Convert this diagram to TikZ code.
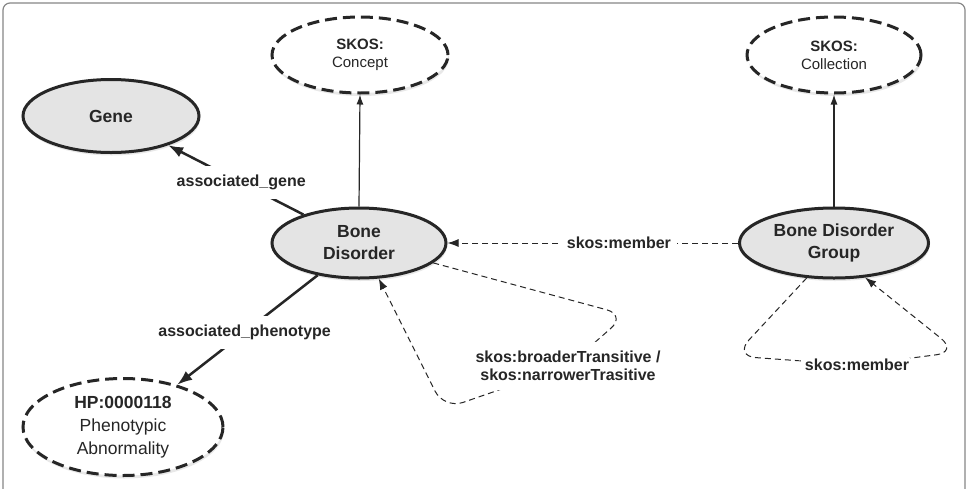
\documentclass[tikz,border=0pt]{standalone}
\usepackage{fontspec}
\setmainfont{Liberation Sans}
\usetikzlibrary{arrows.meta, shapes.geometric, shadows}
\usepackage{xcolor}
\definecolor{ink}{RGB}{38,38,38}
\definecolor{nodefill}{RGB}{228,228,228}
\definecolor{framegray}{RGB}{135,135,135}
\tikzset{
  BN/.style={ellipse,draw=ink,fill=nodefill,line width=3pt,inner sep=0pt,align=center,font=\fontsize{17.5}{22}\selectfont\bfseries\color{ink},drop shadow={opacity=0.18,shadow xshift=1pt,shadow yshift=-3pt}},
  DN/.style={ellipse,draw=ink,fill=white,line width=3pt,dash pattern=on 12pt off 6pt,inner sep=0pt,align=center,font=\fontsize{15}{18}\selectfont\color{ink},drop shadow={opacity=0.18,shadow xshift=1pt,shadow yshift=-3pt}},
  FL/.style={-{Latex[length=10pt,width=7pt]},line width=1.2pt,ink},
  TL/.style={-{Latex[length=15pt,width=11pt]},line width=2.5pt,ink},
  DL/.style={-{Latex[length=11pt,width=8pt]},line width=1pt,ink,dash pattern=on 6pt off 4pt},
  lb/.style={fill=white,inner xsep=6pt,inner ysep=9pt,align=center,font=\fontsize{16}{18.5}\selectfont\bfseries\color{ink}},
}
\begin{document}
\begin{tikzpicture}[x=1pt,y=-1pt]
\useasboundingbox (0,0) rectangle (968,488);
\fill[white] (0,0) rectangle (968,488);
\draw[framegray,line width=1.2pt,rounded corners=7pt] (3,500) -- (3,3) -- (965,3) -- (965,500);

% SKOS classes (top)
\node[DN,minimum width=176pt,minimum height=76pt](concept) at (360,55){\textbf{SKOS:}\\Concept};
\node[DN,minimum width=174pt,minimum height=76pt](collection) at (834,55){\textbf{SKOS:}\\Collection};

% main nodes
\node[BN,minimum width=176pt,minimum height=73pt](gene) at (111,116){Gene};
\node[BN,minimum width=174pt,minimum height=70pt](bd) at (359,243){Bone\\Disorder};
\node[BN,minimum width=189pt,minimum height=70pt](bdg) at (834,243){Bone Disorder\\Group};
\node[DN,minimum width=200pt,minimum height=97pt,font=\fontsize{17.5}{23}\selectfont\color{ink}](hp) at (123,427){\textbf{HP:0000118}\\Phenotypic\\Abnormality};

% FLOWS
\draw[FL](bd.north)--(concept.south);
\draw[FL](bdg.north)--(collection.south);

\draw[TL](bd)--node[lb,pos=0.46](ag){associated\_gene}(gene);
\draw[TL](bd)--node[lb,pos=0.52](ap){associated\_phenotype}(hp);

\draw[DL](bdg)--node[lb,pos=0.41](sm){skos:member}(bd);

% self loops
\draw[DL,rounded corners=20pt](bd.-15)--(626,315)--(568,366)node[lb](bt){skos:broaderTransitive /\\skos:narrowerTrasitive}--(444,409)--(bd.-61);
\draw[DL,rounded corners=22pt](bdg.-128)--(734,356)--(857,365)node[lb](bm){skos:member}--(958,352)--(bdg.-48);

\end{tikzpicture}
\end{document}
